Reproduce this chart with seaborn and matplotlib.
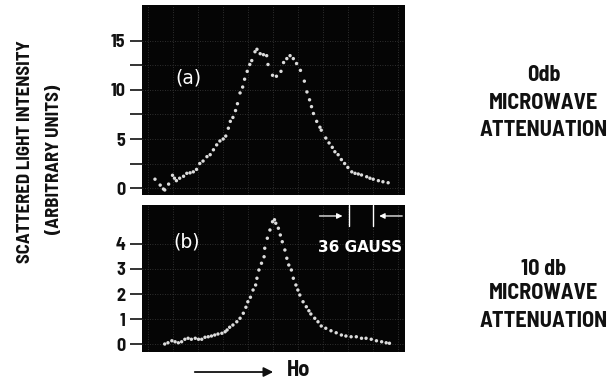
import matplotlib
matplotlib.use("Agg")
import matplotlib.pyplot as plt
from matplotlib import font_manager as fm
import seaborn as sns
import pandas as pd

# ---------------- data (x in gauss, y in arbitrary units) ----------------
x_a = [20, 28, 33, 35, 41, 47, 50, 53, 58, 64, 69, 74, 79, 84, 89, 94, 100, 105, 110, 115,
       120, 125, 129, 133, 136, 140, 144, 147, 151, 155, 158, 162, 166, 169, 174, 177, 182, 187,
       192, 194, 201, 207, 214, 218, 223, 228, 233, 238, 244, 250, 254, 258, 261, 264, 269, 274,
       276, 283, 288, 293, 297, 302, 307, 312, 317, 323, 328, 333, 338, 346, 351, 356, 364, 371, 379]
y_a = [0.9, 0.3, -0.1, -0.2, 0.4, 1.3, 1.0, 0.75, 1.0, 1.2, 1.5, 1.55, 1.65, 1.9, 2.5, 2.75,
       3.2, 3.4, 3.9, 4.4, 4.8, 5.0, 5.3, 6.1, 6.8, 7.2, 7.9, 8.6, 9.7, 10.3, 11.1, 11.9, 12.6,
       13.0, 13.9, 14.15, 13.7, 13.6, 13.5, 12.6, 11.5, 11.4, 11.9, 12.8, 13.2, 13.5, 13.2, 12.7,
       12.0, 10.9, 9.8, 9.0, 8.3, 7.6, 6.8, 6.2, 5.9, 5.1, 4.6, 4.15, 3.7, 3.4, 2.9, 2.5, 2.1,
       1.65, 1.5, 1.43, 1.33, 1.15, 1.0, 0.9, 0.75, 0.64, 0.54]

x_b = [35, 40, 46, 51, 56, 61, 66, 71, 76, 82, 87, 92, 97, 102, 107, 112, 117, 123, 128, 131,
       135, 140, 146, 151, 156, 160, 163, 167, 171, 175, 177, 180, 184, 188, 189, 193, 197, 201,
       204, 206, 210, 213, 216, 220, 223, 226, 230, 233, 237, 240, 243, 248, 253, 257, 260, 266,
       271, 276, 283, 291, 299, 307, 314, 322, 330, 338, 345, 353, 361, 369, 376, 381]
y_b = [0.0, 0.05, 0.13, 0.09, 0.05, 0.09, 0.19, 0.23, 0.19, 0.23, 0.19, 0.19, 0.27, 0.29, 0.32,
       0.36, 0.4, 0.43, 0.49, 0.56, 0.67, 0.76, 0.89, 1.03, 1.23, 1.47, 1.69, 1.87, 2.16, 2.36,
       2.63, 2.96, 3.23, 3.49, 3.83, 4.23, 4.56, 4.89, 4.97, 4.83, 4.63, 4.36, 4.09, 3.76, 3.43,
       3.16, 2.96, 2.63, 2.36, 2.16, 1.96, 1.69, 1.49, 1.33, 1.2, 1.03, 0.89, 0.72, 0.63, 0.53,
       0.45, 0.36, 0.32, 0.29, 0.29, 0.23, 0.23, 0.19, 0.13, 0.09, 0.05, 0.03]

ticks_a = [0, 5, 10, 15]
minor_a = [2.5, 7.5, 12.5]
ticks_b = [0, 1, 2, 3, 4]
marker_gauss = [319, 355]          # the two white lines, 36 gauss apart
right_top = ["0db", "MICROWAVE", "ATTENUATION"]
right_bot = ["10 db", "MICROWAVE", "ATTENUATION"]
ylabel_lines = ["SCATTERED LIGHT INTENSITY", "(ARBITRARY UNITS)"]

# ---------------- style ----------------
sns.set_style("white")
names = {f.name for f in fm.fontManager.ttflist}
narrow = next((n for n in ["Barlow Semi Condensed", "Roboto Condensed", "Archivo Narrow",
                           "Liberation Sans Narrow", "Liberation Sans"] if n in names), "DejaVu Sans")
plt.rcParams["font.family"] = [narrow, "DejaVu Sans"]
plt.rcParams.update({
    "ytick.left": True, "ytick.minor.left": True, "ytick.major.left": True,
    "ytick.major.size": 9, "ytick.minor.size": 9,
    "ytick.major.width": 1.2, "ytick.minor.width": 1.2,
    "ytick.color": "#111111", "ytick.direction": "out",
})

fig = plt.figure(figsize=(6.16, 3.83), dpi=100)
ax_a = fig.add_axes([0.2305, 0.4909, 0.4270, 0.4961])
ax_b = fig.add_axes([0.2305, 0.0809, 0.4270, 0.3839])

ink = "#111111"
dot = "#dcdcdc"
grid = "#3c3c3c"

df_a = pd.DataFrame({"H": x_a, "I": y_a})
df_b = pd.DataFrame({"H": x_b, "I": y_b})
sns.scatterplot(data=df_a, x="H", y="I", ax=ax_a, s=6, color=dot, edgecolor="none", zorder=3)
sns.scatterplot(data=df_b, x="H", y="I", ax=ax_b, s=6, color=dot, edgecolor="none", zorder=3)

ax_a.set_ylim(-0.71, 18.67)
ax_a.set_yticks(ticks_a)
ax_a.set_yticks(minor_a, minor=True)
ax_a.set_yticklabels([str(t) for t in ticks_a])
for gy in ticks_a + minor_a:
    ax_a.axhline(gy, color=grid, lw=0.6, ls=(0, (1, 2)), zorder=1)

ax_b.set_ylim(-0.32, 5.56)
ax_b.set_yticks(ticks_b)
ax_b.set_yticklabels([str(t) for t in ticks_b])
for gy in ticks_b:
    ax_b.axhline(gy, color=grid, lw=0.6, ls=(0, (1, 2)), zorder=1)

for ax in (ax_a, ax_b):
    ax.set_facecolor("#050505")
    for s in ax.spines.values():
        s.set_visible(False)
    ax.set_xlim(0, 405)
    ax.set_xticks([])
    ax.set_xlabel("")
    ax.set_ylabel("")
    for gx in [9, 48, 86, 125, 163, 202, 240, 279, 317, 356, 394]:
        ax.axvline(gx, color=grid, lw=0.6, ls=(0, (1, 2)), zorder=1)
    ax.tick_params(axis="y", which="both", direction="out", length=9, width=1.2,
                   color=ink, labelcolor=ink, pad=3, left=True, labelleft=True)
    for t in ax.yaxis.get_major_ticks() + ax.yaxis.get_minor_ticks():
        t.tick1line.set_visible(True)
        t.tick1line.set_markeredgecolor(ink)
    for lab in ax.get_yticklabels():
        lab.set_fontweight("bold")
        lab.set_fontsize(13)

# panel labels
ax_a.text(71, 11.2, "(a)", color="white", fontsize=13.5, ha="center", va="center",
          family="DejaVu Sans")
ax_b.text(69, 4.08, "(b)", color="white", fontsize=13.5, ha="center", va="center",
          family="DejaVu Sans")

# 36 gauss marker
for mx in marker_gauss:
    ax_b.plot([mx, mx], [4.72, 5.56], color="white", lw=1.0, zorder=4)
ax_b.annotate("", xy=(313, 5.12), xytext=(269, 5.12),
              arrowprops=dict(arrowstyle="-|>", color="white", lw=0.9, mutation_scale=8))
ax_b.annotate("", xy=(361, 5.12), xytext=(405, 5.12),
              arrowprops=dict(arrowstyle="-|>", color="white", lw=0.9, mutation_scale=8))
ax_b.text(336, 3.84, "36 GAUSS", color="white", fontsize=11, fontweight="bold",
          ha="center", va="center", family="DejaVu Sans")

# y label (two lines)
fig.text(0.041, 0.603, ylabel_lines[0], rotation=90, ha="center", va="center",
         fontsize=13.5, fontweight="bold", color=ink)
fig.text(0.0877, 0.585, ylabel_lines[1], rotation=90, ha="center", va="center",
         fontsize=13.5, fontweight="bold", color=ink)

# right side annotations
for txt, yy in zip(right_top, [0.804, 0.731, 0.661]):
    fig.text(0.883, yy, txt, ha="center", va="center", fontsize=16, fontweight="bold", color=ink)
for txt, yy in zip(right_bot, [0.298, 0.235, 0.162]):
    fig.text(0.883, yy, txt, ha="center", va="center", fontsize=16, fontweight="bold", color=ink)

# Ho arrow
fig.patches.append(matplotlib.patches.FancyArrowPatch(
    (0.3117, 0.0287), (0.448, 0.0287), transform=fig.transFigure,
    arrowstyle="-|>", mutation_scale=14, lw=1.3, color=ink))
fig.text(0.485, 0.0339, "Ho", ha="center", va="center", fontsize=16, fontweight="bold", color=ink)

fig.savefig("out.png", dpi=100, facecolor="white")
